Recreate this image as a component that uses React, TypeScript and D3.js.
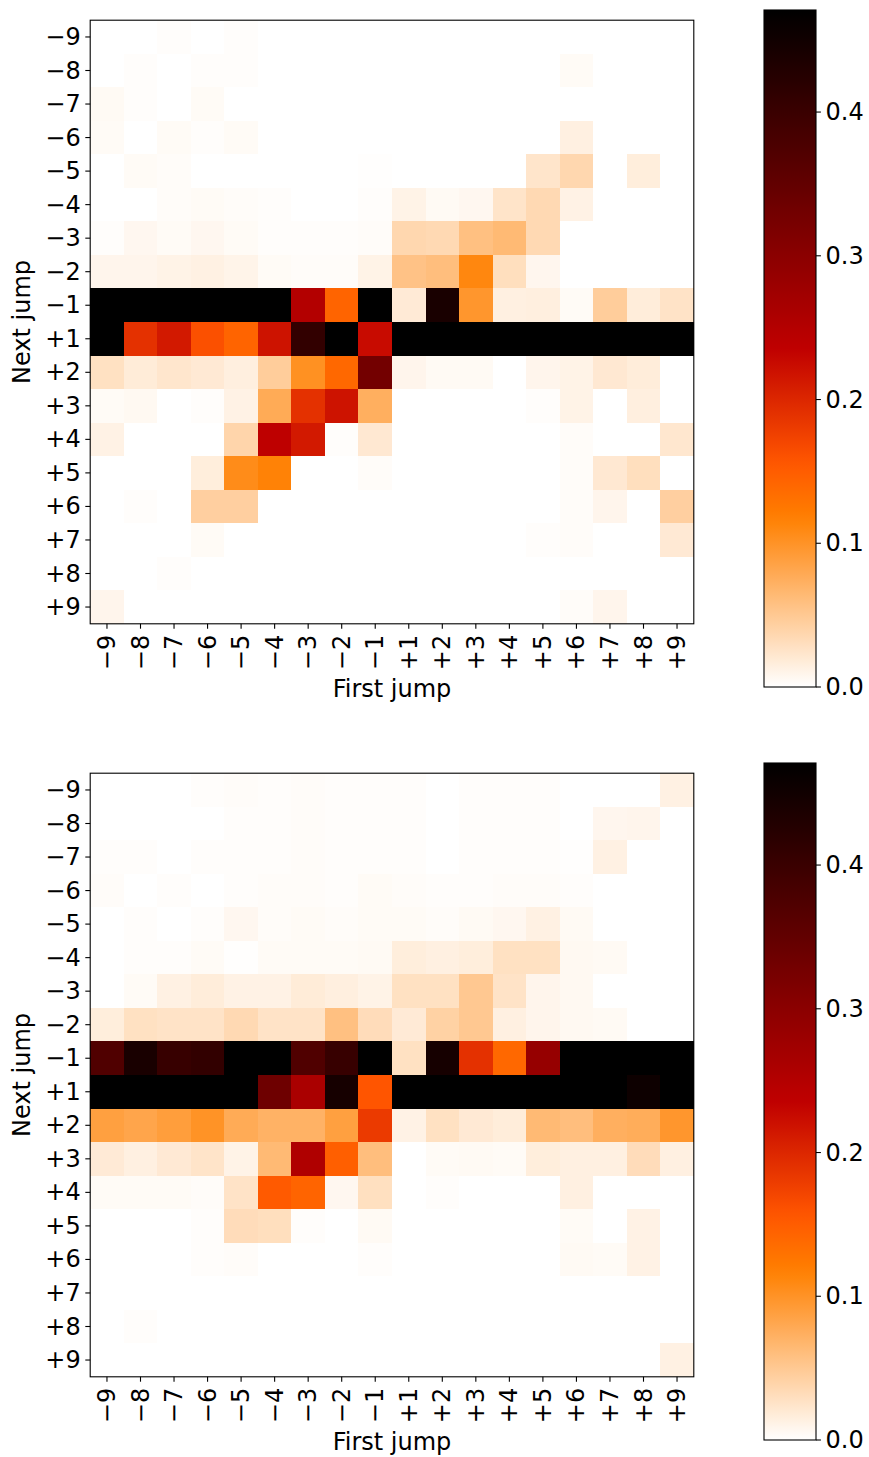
import React from 'react';
import * as d3 from 'd3';

// tick labels for both axes (first jump / next jump)
const jumps = ['−9', '−8', '−7', '−6', '−5', '−4', '−3', '−2', '−1', '+1', '+2', '+3', '+4', '+5', '+6', '+7', '+8', '+9'];
const cbarTicks = [0.0, 0.1, 0.2, 0.3, 0.4];
const vmax = 0.471;

// rows = next jump (-9 .. +9), cols = first jump (-9 .. +9)
const topValues = [
  [0, 0, 0.002, 0, 0.002, 0, 0, 0, 0, 0, 0, 0, 0, 0, 0, 0, 0, 0],
  [0, 0.002, 0, 0.002, 0.002, 0, 0, 0, 0, 0, 0, 0, 0, 0, 0.004, 0, 0, 0],
  [0.005, 0.002, 0, 0.004, 0, 0, 0, 0, 0, 0, 0, 0, 0, 0, 0, 0, 0, 0],
  [0.004, 0, 0.004, 0.002, 0.004, 0, 0, 0, 0, 0, 0, 0, 0, 0, 0.014, 0, 0, 0],
  [0, 0.004, 0.003, 0, 0, 0, 0, 0, 0.001, 0, 0, 0, 0, 0.024, 0.037, 0, 0.016, 0],
  [0, 0, 0.003, 0.004, 0.003, 0.002, 0, 0, 0.002, 0.011, 0.005, 0.007, 0.025, 0.035, 0.012, 0, 0, 0],
  [0.002, 0.007, 0.004, 0.007, 0.004, 0.002, 0.002, 0.002, 0.003, 0.037, 0.035, 0.058, 0.064, 0.035, 0, 0, 0, 0],
  [0.009, 0.009, 0.011, 0.013, 0.01, 0.004, 0.003, 0.003, 0.011, 0.056, 0.06, 0.111, 0.03, 0.008, 0, 0, 0, 0],
  [0.5, 0.5, 0.5, 0.5, 0.5, 0.5, 0.25, 0.143, 0.5, 0.019, 0.44, 0.097, 0.014, 0.015, 0.004, 0.046, 0.017, 0.026],
  [0.5, 0.19, 0.212, 0.162, 0.143, 0.218, 0.41, 0.5, 0.225, 0.5, 0.5, 0.5, 0.5, 0.5, 0.5, 0.5, 0.5, 0.5],
  [0.028, 0.018, 0.023, 0.02, 0.015, 0.046, 0.102, 0.139, 0.33, 0.009, 0.005, 0.005, 0, 0.009, 0.011, 0.021, 0.017, 0],
  [0.004, 0.006, 0, 0.002, 0.012, 0.078, 0.19, 0.218, 0.074, 0, 0, 0, 0, 0.002, 0.011, 0, 0.015, 0],
  [0.012, 0, 0, 0, 0.039, 0.237, 0.212, 0.002, 0.021, 0, 0, 0, 0, 0, 0.003, 0, 0, 0.022],
  [0, 0, 0, 0.016, 0.106, 0.115, 0, 0, 0.003, 0, 0, 0, 0, 0, 0.003, 0.021, 0.03, 0],
  [0, 0.002, 0, 0.044, 0.044, 0, 0, 0, 0, 0, 0, 0, 0, 0, 0.003, 0.009, 0, 0.044],
  [0, 0, 0, 0.004, 0, 0, 0, 0, 0, 0, 0, 0, 0, 0.002, 0.003, 0, 0, 0.02],
  [0, 0, 0.002, 0, 0, 0, 0, 0, 0, 0, 0, 0, 0, 0, 0, 0, 0, 0],
  [0.009, 0, 0, 0, 0, 0, 0, 0, 0, 0, 0, 0, 0, 0, 0.003, 0.009, 0, 0],
];

const bottomValues = [
  [0, 0, 0, 0.002, 0.003, 0.002, 0.003, 0.002, 0.002, 0.002, 0, 0.002, 0.002, 0.002, 0, 0, 0, 0.013],
  [0, 0, 0, 0, 0.002, 0.002, 0.003, 0.002, 0.002, 0.002, 0, 0.002, 0.002, 0.002, 0, 0.008, 0.009, 0],
  [0.002, 0.002, 0, 0.002, 0.002, 0.002, 0.003, 0.002, 0.002, 0.002, 0, 0.002, 0.002, 0.002, 0.001, 0.013, 0, 0],
  [0.003, 0, 0.002, 0, 0.002, 0.003, 0.003, 0.002, 0.004, 0.003, 0.002, 0.002, 0.003, 0.003, 0.002, 0, 0, 0],
  [0, 0.002, 0, 0.002, 0.007, 0.003, 0.004, 0.003, 0.004, 0.004, 0.003, 0.005, 0.007, 0.013, 0.005, 0, 0, 0],
  [0, 0.002, 0.002, 0.004, 0.001, 0.004, 0.004, 0.004, 0.005, 0.016, 0.014, 0.016, 0.028, 0.028, 0.006, 0.005, 0, 0],
  [0, 0.004, 0.013, 0.017, 0.012, 0.012, 0.018, 0.015, 0.011, 0.028, 0.028, 0.051, 0.026, 0.009, 0.006, 0, 0, 0],
  [0.016, 0.028, 0.026, 0.026, 0.035, 0.026, 0.026, 0.058, 0.032, 0.019, 0.042, 0.051, 0.014, 0.009, 0.006, 0.005, 0, 0],
  [0.373, 0.44, 0.403, 0.41, 0.5, 0.5, 0.373, 0.403, 0.5, 0.028, 0.444, 0.19, 0.139, 0.286, 0.5, 0.5, 0.5, 0.5],
  [0.5, 0.5, 0.5, 0.5, 0.5, 0.335, 0.262, 0.444, 0.157, 0.5, 0.5, 0.5, 0.5, 0.5, 0.5, 0.5, 0.455, 0.5],
  [0.088, 0.083, 0.09, 0.1, 0.078, 0.071, 0.071, 0.088, 0.182, 0.012, 0.028, 0.02, 0.017, 0.064, 0.06, 0.074, 0.076, 0.097],
  [0.019, 0.014, 0.02, 0.025, 0.011, 0.064, 0.256, 0.148, 0.06, 0, 0.004, 0.005, 0.004, 0.016, 0.014, 0.014, 0.032, 0.014],
  [0.004, 0.004, 0.004, 0.003, 0.026, 0.152, 0.143, 0.007, 0.029, 0, 0.002, 0, 0, 0, 0.014, 0, 0, 0],
  [0, 0, 0, 0.002, 0.032, 0.03, 0.002, 0, 0.005, 0, 0, 0, 0, 0, 0.004, 0, 0.012, 0],
  [0, 0, 0, 0.002, 0.003, 0, 0, 0, 0.002, 0, 0, 0, 0, 0, 0.005, 0.004, 0.012, 0],
  [0, 0, 0, 0, 0, 0, 0, 0, 0, 0, 0, 0, 0, 0, 0, 0, 0, 0],
  [0, 0.002, 0, 0, 0, 0, 0, 0, 0, 0, 0, 0, 0, 0, 0, 0, 0, 0],
  [0, 0, 0, 0, 0, 0, 0, 0, 0, 0, 0, 0, 0, 0, 0, 0, 0, 0.013],
];

const FONT = 'DejaVu Sans';
const FS = 24;

// matplotlib gist_heat_r
const clamp = (v: number) => Math.max(0, Math.min(1, v));
const norm = d3.scaleLinear().domain([0, vmax]).range([0, 1]).clamp(true);
function heat(v: number) {
  const x = 1 - norm(v);
  return d3.rgb(255 * clamp(1.5 * x), 255 * clamp(2 * x - 1), 255 * clamp(4 * x - 3)).formatHex();
}

const W = 869;
const H = 1457;

function Panel({ values, top }: { values: number[][]; top: number }) {
  const left = 90.2;
  const size = 603.6;
  const x = d3.scaleBand().domain(jumps).range([left, left + size]);
  const y = d3.scaleBand().domain(jumps).range([top + 10.2, top + 10.2 + size]);
  const cells = values.flatMap((row, i) => row.map((v, j) => ({ r: jumps[i], c: jumps[j], v })));

  // colorbar
  const cbTop = top;
  const cbBot = top + 677;
  const cbX = 764;
  const cbW = 52;
  const cy = d3.scaleLinear().domain([0, vmax]).range([cbBot, cbTop]);
  const gid = `grad${top}`;
  const stops = d3.range(0, 1.0001, 0.02);

  return (
    <g>
      <g shapeRendering="crispEdges">
        {cells.map((d, k) => (
          <rect key={k} x={x(d.c)} y={y(d.r)} width={x.bandwidth() + 0.5} height={y.bandwidth() + 0.5} fill={heat(d.v)} />
        ))}
      </g>
      <rect x={left} y={top + 10.2} width={size} height={size} fill="none" stroke="#000" strokeWidth={1.1} />
      {/* y axis */}
      {jumps.map(t => {
        const yy = (y(t) as number) + y.bandwidth() / 2;
        return (
          <g key={'y' + t}>
            <line x1={left - 4.9} x2={left} y1={yy} y2={yy} stroke="#000" strokeWidth={1.1} />
            <text x={left - 9.5} y={yy} textAnchor="end" dominantBaseline="central" fontFamily={FONT} fontSize={FS}>{t}</text>
          </g>
        );
      })}
      {/* x axis */}
      {jumps.map(t => {
        const xx = (x(t) as number) + x.bandwidth() / 2;
        const yb = top + 10.2 + size;
        return (
          <g key={'x' + t}>
            <line x1={xx} x2={xx} y1={yb} y2={yb + 4.9} stroke="#000" strokeWidth={1.1} />
            <text transform={`translate(${xx},${yb + 11}) rotate(-90)`} textAnchor="end" dominantBaseline="central" fontFamily={FONT} fontSize={FS}>{t}</text>
          </g>
        );
      })}
      <text x={left + size / 2} y={top + 687} textAnchor="middle" fontFamily={FONT} fontSize={FS}>First jump</text>
      <text transform={`translate(30,${top + 10.2 + size / 2}) rotate(-90)`} textAnchor="middle" fontFamily={FONT} fontSize={FS}>Next jump</text>

      <defs>
        <linearGradient id={gid} x1="0" y1="1" x2="0" y2="0">
          {stops.map(s => (
            <stop key={s} offset={s} stopColor={heat(s * vmax)} />
          ))}
        </linearGradient>
      </defs>
      <rect x={cbX} y={cbTop} width={cbW} height={cbBot - cbTop} fill={`url(#${gid})`} stroke="#000" strokeWidth={1.1} />
      {cbarTicks.map(t => (
        <g key={'c' + t}>
          <line x1={cbX + cbW} x2={cbX + cbW + 4.9} y1={cy(t)} y2={cy(t)} stroke="#000" strokeWidth={1.1} />
          <text x={cbX + cbW + 9.5} y={cy(t)} dominantBaseline="central" fontFamily={FONT} fontSize={FS}>{t.toFixed(1)}</text>
        </g>
      ))}
    </g>
  );
}

export default function App() {
  return (
    <svg width={W} height={H} style={{ position: 'absolute', left: 0, top: 0, background: '#fff' }}>
      <rect width={W} height={H} fill="#fff" />
      <Panel values={topValues} top={10} />
      <Panel values={bottomValues} top={763} />
    </svg>
  );
}
